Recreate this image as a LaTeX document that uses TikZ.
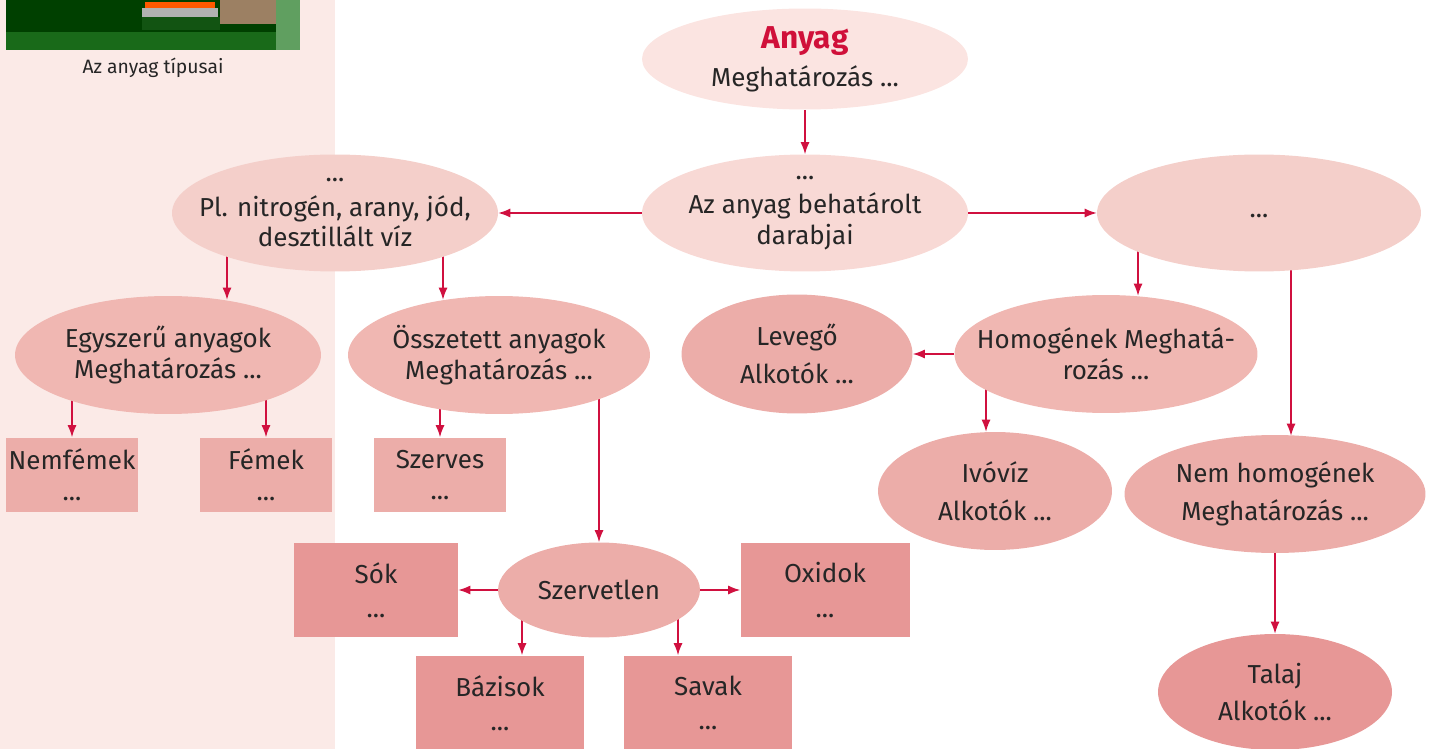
\documentclass[tikz,border=0pt]{standalone}
\usepackage{fontspec}
\setmainfont{Fira Sans}
\usetikzlibrary{shapes.geometric,arrows.meta,calc}
\definecolor{panelbg}{HTML}{FBEAE7}
\definecolor{szinA}{HTML}{FBE4E1}
\definecolor{szinB}{HTML}{F8D9D5}
\definecolor{szinC}{HTML}{F4CFCA}
\definecolor{szinD}{HTML}{F0B7B2}
\definecolor{szinE}{HTML}{ECADA9}
\definecolor{szinF}{HTML}{E79796}
\definecolor{nyilszin}{HTML}{D0103F}
\definecolor{cimszin}{HTML}{D0103A}
\definecolor{szoveg}{HTML}{262626}
\pgfdeclarelayer{hatter}
\pgfsetlayers{hatter,main}
\begin{document}
\begin{tikzpicture}[x=0.02cm,y=-0.02cm,
	ell/.style={ellipse,inner xsep=-0.6cm,inner ysep=-0.4cm,align=center,text=szoveg,font=\fontsize{14.8}{17.5}\selectfont},
	doboz/.style={rectangle,inner sep=0pt,align=center,text=szoveg,font=\fontsize{14.8}{17.5}\selectfont},
	nyil/.style={draw=nyilszin,line width=0.7pt,-{Latex[length=2.4mm,width=1.8mm]}}]
				\useasboundingbox (0,0) rectangle (1435,749);
				\fill[green!25!black] (6,0) rectangle (300,50);
				\fill[green!35!black!90] (6,32) rectangle (300,50);
				\fill[gray!60] (142,8) rectangle (218,17);
				\fill[gray!35!green!40!black] (142,17) rectangle (220,30);
				\fill[orange!70!red] (145,2) rectangle (215,8);
				\fill[brown!45!gray] (220,0) rectangle (276,24);
				\fill[green!25!gray] (276,0) rectangle (300,50);
				\node[font=\fontsize{11}{13}\selectfont,text=szoveg] (felirat) at (153,68) {Az anyag típusai};
				\node[ell,fill=szinA,minimum width=6.52cm,minimum height=2.02cm] (anyag) at (805,59) {{\color{cimszin}\fontsize{18}{20}\selectfont\bfseries Anyag}\\[4pt]Meghatározás ...};
				\node[ell,fill=szinB,minimum width=6.52cm,minimum height=2.34cm] (darab) at (805,213) {...\\[2pt]Az anyag behatárolt\\darabjai};
				\node[ell,fill=szinC,minimum width=6.52cm,minimum height=2.34cm] (pelda) at (335,213) {...\\[2pt]Pl. nitrogén, arany, jód,\\desztillált víz};
				\node[ell,fill=szinC,minimum width=6.48cm,minimum height=2.34cm] (jobb) at (1259,213) {\raisebox{-0.1cm}[0pt][0pt]{...}};
				\node[ell,fill=szinD,minimum width=6.12cm,minimum height=2.36cm] (egysz) at (168,355) {Egyszerű anyagok\\Meghatározás ...};
				\node[ell,fill=szinD,minimum width=6.04cm,minimum height=2.36cm] (ossz) at (499,355) {Összetett anyagok\\Meghatározás ...};
				\node[ell,fill=szinD,minimum width=6.06cm,minimum height=2.36cm] (homog) at (1106,354) {Homogének Meghatá-\\rozás ...};
				\node[ell,fill=szinE,minimum width=4.62cm,minimum height=2.38cm] (levego) at (797,354) {Levegő\\[4pt]Alkotók ...};
				\node[ell,fill=szinE,minimum width=4.68cm,minimum height=2.36cm] (ivoviz) at (995,491) {Ivóvíz\\[4pt]Alkotók ...};
				\node[ell,fill=szinE,minimum width=6.02cm,minimum height=2.36cm] (nemhom) at (1275,494) {Nem homogének\\[4pt]Meghatározás ...};
				\node[ell,fill=szinF,minimum width=4.68cm,minimum height=2.32cm] (talaj) at (1275,692) {Talaj\\[4pt]Alkotók ...};
				\node[doboz,fill=szinE,minimum width=2.66cm,minimum height=1.5cm] (nemfem) at (72,475) {Nemfémek\\...};
				\node[doboz,fill=szinE,minimum width=2.66cm,minimum height=1.5cm] (fem) at (266,475) {Fémek\\...};
				\node[doboz,fill=szinE,minimum width=2.66cm,minimum height=1.5cm] (szerves) at (440,475) {Szerves\\...};
				\node[ell,fill=szinE,minimum width=4.04cm,minimum height=1.9cm] (szervetlen) at (599,590) {Szervetlen};
				\node[doboz,fill=szinF,minimum width=3.28cm,minimum height=1.9cm] (sok) at (376,590) {Sók\\[2pt]...};
				\node[doboz,fill=szinF,minimum width=3.38cm,minimum height=1.9cm] (oxid) at (825,590) {Oxidok\\[2pt]...};
				\node[doboz,fill=szinF,minimum width=3.36cm,minimum height=1.9cm] (bazis) at (500,703) {Bázisok\\[2pt]...};
				\node[doboz,fill=szinF,minimum width=3.36cm,minimum height=1.9cm] (sav) at (708,703) {Savak\\[2pt]...};
				\begin{pgfonlayer}{hatter}
				\fill[panelbg] (0,0) rectangle (335,749);
				\draw[nyil] (anyag.south) -- (darab.north);
				\draw[nyil] (darab.west) -- (pelda.east);
				\draw[nyil] (darab.east) -- (jobb.west);
				\draw[nyil] ($(pelda.center)+(-108,0)$) -- ($(egysz.north)+(59,4)$);
				\draw[nyil] ($(pelda.center)+(108,0)$) -- ($(ossz.north)+(-56,4)$);
				\draw[nyil] (egysz.center -| nemfem.north) -- (nemfem.north);
				\draw[nyil] (egysz.center -| fem.north) -- (fem.north);
				\draw[nyil] (ossz.center -| szerves.north) -- (szerves.north);
				\draw[nyil] (ossz.center -| szervetlen.north) -- (szervetlen.north);
				\draw[nyil] (szervetlen.west) -- (sok.east);
				\draw[nyil] (szervetlen.east) -- (oxid.west);
				\draw[nyil] ($(szervetlen.center)+(-77,0)$) -- ($(bazis.north)+(22,0)$);
				\draw[nyil] ($(szervetlen.center)+(79,0)$) -- ($(sav.north)+(-30,0)$);
				\draw[nyil] ($(jobb.center)+(-121,0)$) -- ($(homog.north)+(32,1)$);
				\draw[nyil] ($(jobb.center)+(32,0)$) -- ($(nemhom.north)+(16,1)$);
				\draw[nyil] (homog.west) -- (levego.east);
				\draw[nyil] ($(homog.center)+(-120,0)$) -- ($(ivoviz.north)+(-9,0)$);
				\draw[nyil] (nemhom.south) -- (talaj.north);
				\end{pgfonlayer}
			\end{tikzpicture}
\end{document}
